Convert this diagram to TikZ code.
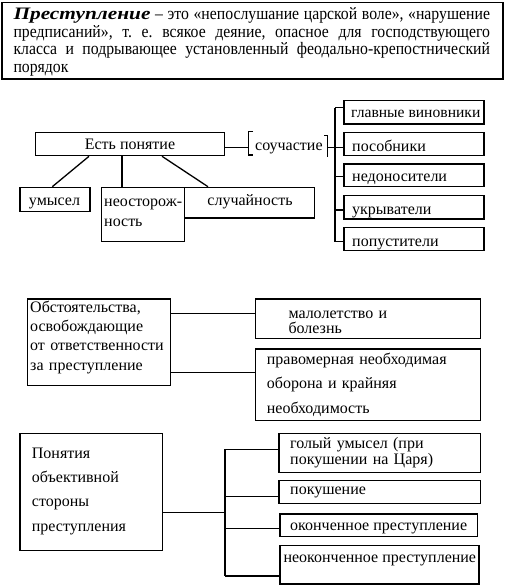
\documentclass[tikz,border=0pt]{standalone}
\usepackage{fontspec}
\setmainfont{Liberation Serif}
\newcommand{\fsz}{\fontsize{16}{19}\selectfont}
\begin{document}
\begin{tikzpicture}[x=1pt,y=-1pt,
  box/.style={draw, line width=1.3pt, inner sep=0pt, anchor=north west},
  topbox/.style={draw, line width=1.8pt, inner sep=0pt, anchor=north west},
  txt/.style={inner sep=0pt, anchor=base west, font=\fsz, align=left},
  conn/.style={line width=1.3pt}]
\useasboundingbox (0,0) rectangle (505,585);

% ---------- top definition box ----------
\node[topbox, minimum width=501pt, minimum height=76.6pt] (def) at (0.7,1.7) {};
\node[inner sep=0pt, anchor=base west, text width=476.5pt, align=justify,
      font=\fontsize{17.5}{17.75}\selectfont\addfontfeatures{FakeStretch=0.9}] (deft) at (13.3,19.5)
  {\frenchspacing\exhyphenpenalty=10000 \hyphenpenalty=10000
   \textbf{\textit{\addfontfeatures{FakeStretch=1.22}Преступление}} – это «непослушание царской воле», «нарушение\linebreak
   предписаний», т. е. всякое деяние, опасное для господствующего\linebreak
   класса и подрывающее установленный феодально-крепостнический\linebreak
   порядок};

% ---------- section 2 ----------
\node[box, minimum width=189pt, minimum height=23.3pt] (est) at (35,131.7) {};
\node[txt, anchor=base] (estt) at (130,150) {Есть понятие};

\node[box, minimum width=70pt, minimum height=24pt] (um) at (19.3,186.7) {};
\node[txt, anchor=base] (umt) at (54.5,205) {умысел};
\node[box, minimum width=83pt, minimum height=54pt] (neo) at (101,186.7) {};
\node[txt, text width=80pt, font=\fontsize{16}{19}\selectfont] (neot) at (104,207) {неосторож-\\ность};
\node[box, minimum width=130pt, minimum height=30.6pt] (sl) at (184,186.7) {};
\node[txt, anchor=base] (slt) at (250,205) {случайность};

\draw[conn] ([xshift=54pt]est.south west) -- ([xshift=33pt]um.north west);
\draw[conn] ([xshift=87pt]est.south west) -- ([xshift=21pt]neo.north west);
\draw[conn] ([xshift=127pt]est.south west) -- ([xshift=24pt]sl.north west);

% соучастие with brackets
\node[txt] (sou) at (255,150.5) {соучастие};
\coordinate (bl) at (248.3,147.7);
\coordinate (br) at (327.3,147.7);
\draw[conn] (253,131.7) -- (248.3,131.7) -- (248.3,155) -- (253,155);
\draw[conn] (324,135.5) -- (327.3,135.5) -- (327.3,157.5);
\draw[conn] (est.east |- bl) -- (bl);

% right column
\node[box, minimum width=140pt, minimum height=23.3pt] (r1) at (343.3,100) {};
\node[box, minimum width=140pt, minimum height=23.3pt] (r2) at (343.3,131.7) {};
\node[box, minimum width=140pt, minimum height=22.4pt] (r3) at (343.3,163.3) {};
\node[box, minimum width=140pt, minimum height=23.3pt] (r4) at (343.3,195) {};
\node[box, minimum width=140pt, minimum height=23.3pt] (r5) at (343.3,226.7) {};
\node[txt, font=\fontsize{15.6}{19}\selectfont] (r1t) at (351,118) {главные виновники};
\node[txt] (r2t) at (352,151.5) {пособники};
\node[txt] (r3t) at (352,182) {недоносители};
\node[txt] (r4t) at (352,214) {укрыватели};
\node[txt] (r5t) at (352,246.5) {попустители};

\coordinate (vt) at (335,107.7);
\coordinate (v2) at (335,147.7);
\coordinate (v3) at (335,176.7);
\coordinate (v4) at (335,210);
\coordinate (vb) at (335,241.7);
\draw[conn] (vt) -- (vb);
\draw[conn] (br) -- (v2) -- (v2 -| r2.west);
\draw[conn] (vt) -- (vt -| r1.west);
\draw[conn] (v3) -- (v3 -| r3.west);
\draw[conn] (v4) -- (v4 -| r4.west);
\draw[conn] (vb) -- (vb -| r5.west);

% ---------- section 3 ----------
\node[box, minimum width=143.3pt, minimum height=86.7pt] (ob) at (26.7,298.3) {};
\node[txt, text width=140pt, font=\fontsize{16}{19.3}\selectfont] (obt) at (30,312.3)
  {Обстоятельства,\\освобождающие\\от ответственности\\за преступление};
\node[box, minimum width=225pt, minimum height=39.4pt] (ml) at (255,298.3) {};
\node[txt, text width=180pt, font=\fontsize{16}{15}\selectfont] (mlt) at (288.3,318) {малолетство и\\болезнь};
\node[box, minimum width=225pt, minimum height=71.7pt] (pr) at (255,348.3) {};
\node[txt, text width=210pt, font=\fontsize{16}{24.5}\selectfont] (prt) at (266.7,364.3)
  {правомерная необходимая\\оборона и крайняя\\необходимость};
\coordinate (o1) at (170,313.3);
\coordinate (o2) at (170,372.3);
\draw[conn] (ob.east |- o1) -- (o1 -| ml.west);
\draw[conn] (ob.east |- o2) -- (o2 -| pr.west);

% ---------- section 4 ----------
\node[box, minimum width=142.4pt, minimum height=117.3pt] (po) at (19.3,432.7) {};
\node[txt, text width=125pt, font=\fontsize{16}{24.3}\selectfont] (pot) at (31.7,458.3)
  {Понятия\\объективной\\стороны\\преступления};
\node[box, minimum width=201.7pt, minimum height=39pt] (g1) at (278.3,432.7) {};
\node[box, minimum width=201.7pt, minimum height=22.7pt] (g2) at (278.3,480) {};
\node[box, minimum width=197.4pt, minimum height=22.7pt] (g3) at (279.3,513.3) {};
\node[box, minimum width=199pt, minimum height=38.3pt] (g4) at (279.3,545) {};
\node[txt, text width=185pt, font=\fontsize{16}{16}\selectfont] (g1t) at (290,448.3) {голый умысел (при\\покушении на Царя)};
\node[txt] (g2t) at (290,494) {покушение};
\node[txt] (g3t) at (290,530) {оконченное преступление};
\node[txt] (g4t) at (283.3,562.7) {неоконченное преступление};

\coordinate (wt) at (225,449.3);
\coordinate (w2) at (225,496.7);
\coordinate (w3) at (225,528.3);
\coordinate (wb) at (225,576);
\coordinate (wm) at (225,512.7);
\draw[conn] (po.east |- wm) -- (wm);
\draw[conn] (wt) -- (wb);
\draw[conn] (wt) -- (wt -| g1.west);
\draw[conn] (w2) -- (w2 -| g2.west);
\draw[conn] (w3) -- (w3 -| g3.west);
\draw[conn] (wb) -- (wb -| g4.west);
\end{tikzpicture}
\end{document}
